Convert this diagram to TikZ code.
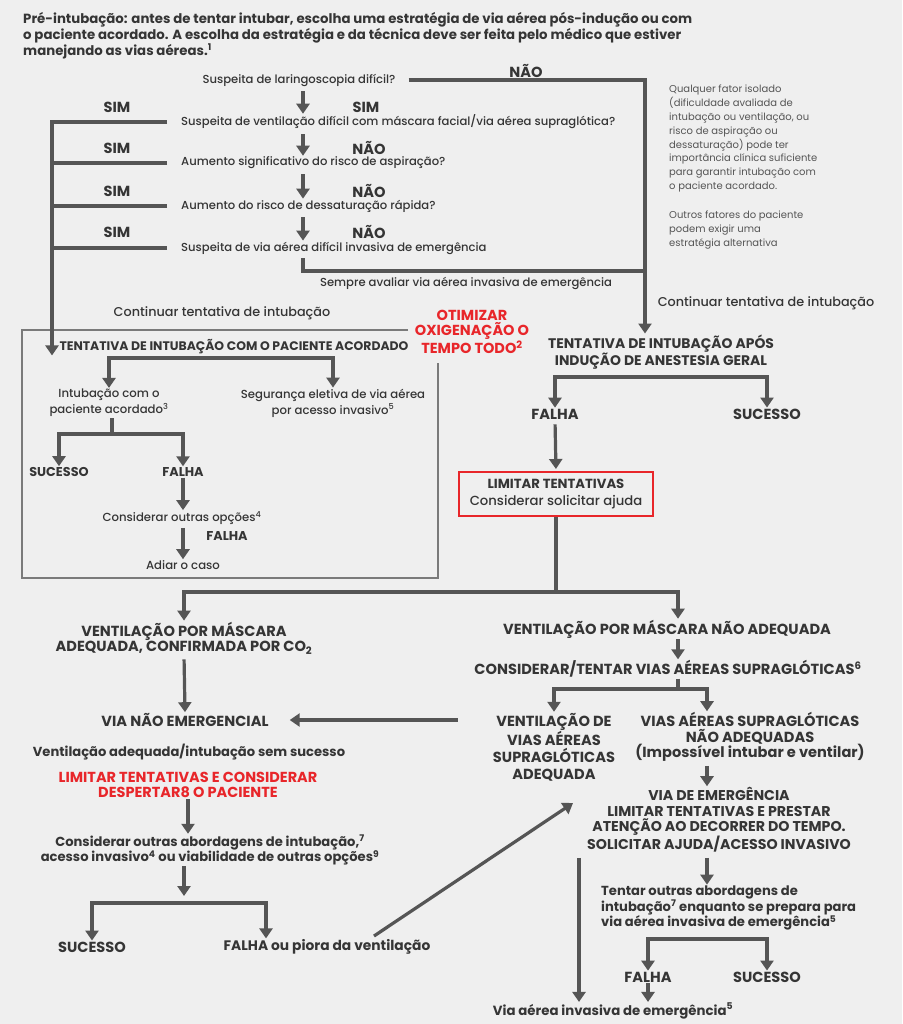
\documentclass[tikz,border=0pt]{standalone}
\usepackage{fontspec}
\setmainfont{Poppins}
\newfontfamily\pmed{Poppins Medium}
\usetikzlibrary{arrows.meta,calc}
\definecolor{bg}{HTML}{EFEFEF}
\definecolor{tx}{HTML}{353535}
\definecolor{lc}{HTML}{555555}
\definecolor{rd}{HTML}{E8262A}
\definecolor{bxc}{HTML}{7A7A7A}
\definecolor{nt}{HTML}{555555}
\tikzset{
  every node/.style={inner sep=1pt, text=tx, align=center},
  fq/.style={font=\pmed\fontsize{11.6}{13}\selectfont},
  fnote/.style={font=\fontsize{10}{13.8}\selectfont, text=nt, align=left},
  fbig/.style={font=\fontsize{14.6}{15.5}\selectfont\bfseries},
  fmid/.style={font=\fontsize{13.1}{15.5}\selectfont\bfseries},
  fsm/.style={font=\pmed\fontsize{11.7}{16}\selectfont},
  fred/.style={font=\fontsize{14.5}{15.5}\selectfont\bfseries, text=rd},
  lnk/.style={draw=lc, line width=3.2pt},
  arr/.style={lnk, -{Triangle[width=13pt,length=10pt]}},
  arrtwo/.style={lnk, {Triangle[width=13pt,length=10pt]}-{Triangle[width=13pt,length=10pt]}},
  boxline/.style={draw=bxc, line width=1.5pt},
}
\begin{document}
\begin{tikzpicture}[x=1pt,y=-1pt]
\fill[bg] (0,0) rectangle (902,1024);
\useasboundingbox (0,0) rectangle (902,1024);
% helper coordinates
\coordinate (ax) at (303,0);
\coordinate (nr) at (645,81);
\coordinate (lv) at (52,123);
\coordinate (sb) at (303,271);
\coordinate (rx) at (678,0);
\coordinate (x707) at (707,0);
\coordinate (x579) at (579,0);
\coordinate (fx) at (266,0);
\coordinate (bA) at (221,358);
\coordinate (bB) at (112,434);
\coordinate (bC) at (661,377);
\coordinate (b5) at (556,592);
\coordinate (b6) at (184,896);
\coordinate (b7) at (184,903);
\coordinate (b8) at (678,689);
\coordinate (b9) at (707,939);
% title
\node[anchor=west, align=left, font=\fontsize{13.3}{15.5}\selectfont\bfseries] (title) at (22,36)
 {Pré-intubação: antes de tentar intubar, escolha uma estratégia de via aérea pós-indução ou com\\
  o paciente acordado. A escolha da estratégia e da técnica deve ser feita pelo médico que estiver\\
  manejando as vias aéreas.\textsuperscript{1}};
% questions
\node[fq] (q1) at (299,80) {Suspeita de laringoscopia difícil?};
\node[fq, anchor=west] (q2) at (180,122) {Suspeita de ventilação difícil com máscara facial/via aérea supraglótica?};
\node[fq, anchor=west] (q3) at (180,163) {Aumento significativo do risco de aspiração?};
\node[fq, anchor=west] (q4) at (180,206) {Aumento do risco de dessaturação rápida?};
\node[fq, anchor=west] (q5) at (180,248) {Suspeita de via aérea difícil invasiva de emergência};
% SIM / NAO
\node[fbig] (n0) at (526,71) {NÃO};
\node[fbig] (sl1) at (117,107) {SIM};
\node[fbig] (sr1) at (366,107) {SIM};
\node[fbig] (sl2) at (117,148) {SIM};
\node[fbig] (nr2) at (369,148) {NÃO};
\node[fbig] (sl3) at (117,191) {SIM};
\node[fbig] (nr3) at (369,191) {NÃO};
\node[fbig] (sl4) at (117,232) {SIM};
\node[fbig] (nr4) at (369,232) {NÃO};
\node[fq] (sempre) at (466,283) {Sempre avaliar via aérea invasiva de emergência};
% note
\node[fnote, anchor=north west] (note1) at (668,84)
 {Qualquer fator isolado\\ (dificuldade avaliada de\\ intubação ou ventilação, ou\\ risco de aspiração ou\\ dessaturação) pode ter\\ importância clínica suficiente\\ para garantir intubação com\\ o paciente acordado.};
\node[fnote, anchor=north west] (note2) at (668,210)
 {Outros fatores do paciente\\ podem exigir uma\\ estratégia alternativa};
% continue labels
\node[font=\pmed\fontsize{12.8}{14}\selectfont] (cont1) at (222,313) {Continuar tentativa de intubação};
\node[font=\pmed\fontsize{12.8}{14}\selectfont] (cont2) at (766,303) {Continuar tentativa de intubação};
% red optimize
\node[fred] (otm) at (472,332) {OTIMIZAR\\ OXIGENAÇÃO O\\ TEMPO TODO\textsuperscript{2}};
% awake box
\node[font=\fontsize{12.4}{13}\selectfont\bfseries] (aw) at (234,347) {TENTATIVA DE INTUBAÇÃO COM O PACIENTE ACORDADO};
\node[fsm] (ia) at (109,403) {Intubação com o\\ paciente acordado\textsuperscript{3}};
\node[fsm] (se) at (333,403) {Segurança eletiva de via aérea\\ por acesso invasivo\textsuperscript{5}};
\node[fmid, font=\fontsize{12.8}{15}\selectfont\bfseries] (suc1) at (59,472) {SUCESSO};
\node[fmid, font=\fontsize{12.8}{15}\selectfont\bfseries] (fal1) at (183,472) {FALHA};
\node[fsm] (co) at (182,518) {Considerar outras opções\textsuperscript{4}};
\node[fmid, font=\fontsize{12.8}{15}\selectfont\bfseries] (fal2) at (227,536) {FALHA};
\node[fsm] (ad) at (183,565) {Adiar o caso};
% general anesthesia
\node[fbig, font=\fontsize{13.9}{16}\selectfont\bfseries] (ta) at (661,352) {TENTATIVA DE INTUBAÇÃO APÓS\\ INDUÇÃO DE ANESTESIA GERAL};
\node[fbig] (fal3) at (555,414) {FALHA};
\node[fbig] (suc3) at (767,414) {SUCESSO};
\node[draw=rd, line width=2pt, fill=bg, minimum width=194pt, minimum height=44pt, inner sep=0pt, font=\fontsize{13.2}{16.5}\selectfont] (lim) at (556,494)
 {\bfseries LIMITAR TENTATIVAS\\ \pmed Considerar solicitar ajuda};
% lower left
\node[fbig] (vma) at (184,638) {VENTILAÇÃO POR MÁSCARA\\ ADEQUADA, CONFIRMADA POR CO\textsubscript{2}};
\node[fbig] (vne) at (185,720) {VIA NÃO EMERGENCIAL};
\node[fmid] (vas) at (189,752) {Ventilação adequada/intubação sem sucesso};
\node[fred] (lt) at (188,785) {LIMITAR TENTATIVAS E CONSIDERAR\\ DESPERTAR8 O PACIENTE};
\node[fmid] (coa) at (210,850) {Considerar outras abordagens de intubação,\textsuperscript{7}\\ acesso invasivo\textsuperscript{4} ou viabilidade de outras opções\textsuperscript{9}};
\node[fbig] (suc4) at (92,947) {SUCESSO};
\node[fbig, font=\fontsize{13.8}{15}\selectfont\bfseries] (fp) at (327,947) {FALHA ou piora da ventilação};
% lower right
\node[fbig] (vmn) at (667,629) {VENTILAÇÃO POR MÁSCARA NÃO ADEQUADA};
\node[fbig] (cta) at (668,669) {CONSIDERAR/TENTAR VIAS AÉREAS SUPRAGLÓTICAS\textsuperscript{6}};
\node[fbig, font=\fontsize{14.6}{17}\selectfont\bfseries] (vsa) at (554,747) {VENTILAÇÃO DE\\ VIAS AÉREAS\\ SUPRAGLÓTICAS\\ ADEQUADA};
\node[fbig] (vsn) at (750,737) {VIAS AÉREAS SUPRAGLÓTICAS\\ NÃO ADEQUADAS\\ (Impossível intubar e ventilar)};
\node[fbig, font=\fontsize{14.2}{15.4}\selectfont\bfseries] (ve) at (719,820) {VIA DE EMERGÊNCIA\\ LIMITAR TENTATIVAS E PRESTAR\\ ATENÇÃO AO DECORRER DO TEMPO.\\ SOLICITAR AJUDA/ACESSO INVASIVO};
\node[fmid, anchor=west, align=left] (tt) at (600,908) {Tentar outras abordagens de\\ intubação\textsuperscript{7} enquanto se prepara para\\ via aérea invasiva de emergência\textsuperscript{5}};
\node[fbig] (fal5) at (648,977) {FALHA};
\node[fbig] (suc5) at (767,977) {SUCESSO};
\node[fmid, font=\fontsize{13.3}{15}\selectfont\bfseries] (via) at (613,1011) {Via aérea invasiva de emergência\textsuperscript{5}};
% gray frame
\draw[boxline] (408,330) -- (22,330) -- (22,578) -- (438,578) -- (438,363);
% connectors: question column
\draw[arr, shorten <=12pt] (q1.east) -- (q1.east -| nr) -- (nr |- ta.north);
\draw[arr, shorten <=4pt] (q1.south -| ax) -- (q2.north -| ax);
\draw[arr, shorten <=4pt] (q2.south -| ax) -- (q3.north -| ax);
\draw[arr, shorten <=4pt] (q3.south -| ax) -- (q4.north -| ax);
\draw[arr, shorten <=4pt] (q4.south -| ax) -- (q5.north -| ax);
\draw[arr, shorten <=13pt] (q2.west) -- (q2.west -| lv) -- (lv |- aw.south);
\draw[lnk, shorten <=13pt] (q3.west) -- (q3.west -| lv);
\draw[lnk, shorten <=13pt] (q4.west) -- (q4.west -| lv);
\draw[lnk, shorten <=13pt] (q5.west) -- (q5.west -| lv);
\draw[lnk, shorten <=3pt] (q5.south -| ax) -- (sb) -- (sb -| nr);
% awake box connectors
\draw[arrtwo] (ia.north) |- (bA) -| (se.north);
\draw[lnk] (ia.south -| bB) -- (bB);
\draw[arrtwo] (suc1.north) |- (bB) -| (fal1.north);
\draw[arr] (fal1.south) -- (co.north -| fal1.south);
\draw[arr, shorten <=2pt] (co.south -| fal1.south) -- (ad.north);
% general anesthesia connectors
\draw[arrtwo] (fal3.north) |- (bC) -| (suc3.north);
\draw[arr, shorten <=4pt, shorten >=2pt] (fal3.south) -- (lim.north);
\draw[lnk] (lim.south) -- (b5);
\draw[arrtwo] (vma.north) |- (b5) -| (vmn.north -| rx);
\draw[arr, shorten <=4pt] (vma.south) -- (vne.north);
\draw[arr, shorten <=34pt, shorten >=20pt] (vsa.west |- vne.east) -- (vne.east);
\draw[arr] (lt.south) -- (lt.south |- coa.north);
\draw[arr] (coa.south -| b6) -- (b6);
\draw[arrtwo] (suc4.north) |- (b7) -| (fx |- fp.north);
\coordinate (fpout) at (374,936);
\coordinate (vsain) at (573,803);
\draw[arr] (fpout) -- (vsain);
% lower right connectors
\draw[arr] (vmn.south -| rx) -- (cta.north -| rx);
\draw[lnk] (cta.south -| rx) -- (b8);
\draw[arrtwo] (vsa.north) |- (b8) -| (x707 |- vsn.north);
\draw[arr, shorten <=3pt] (vsn.south -| x707) -- (ve.north -| x707);
\draw[arr, shorten <=4pt] (ve.south -| x707) -- (tt.north -| x707);
\draw[arr, shorten <=4pt] (ve.south -| x579) -- (via.north -| x579);
\draw[arrtwo] (fal5.north) |- (b9) -| (suc5.north);
\draw[arr] (fal5.south) -- (via.north -| fal5.south);
\end{tikzpicture}
\end{document}
